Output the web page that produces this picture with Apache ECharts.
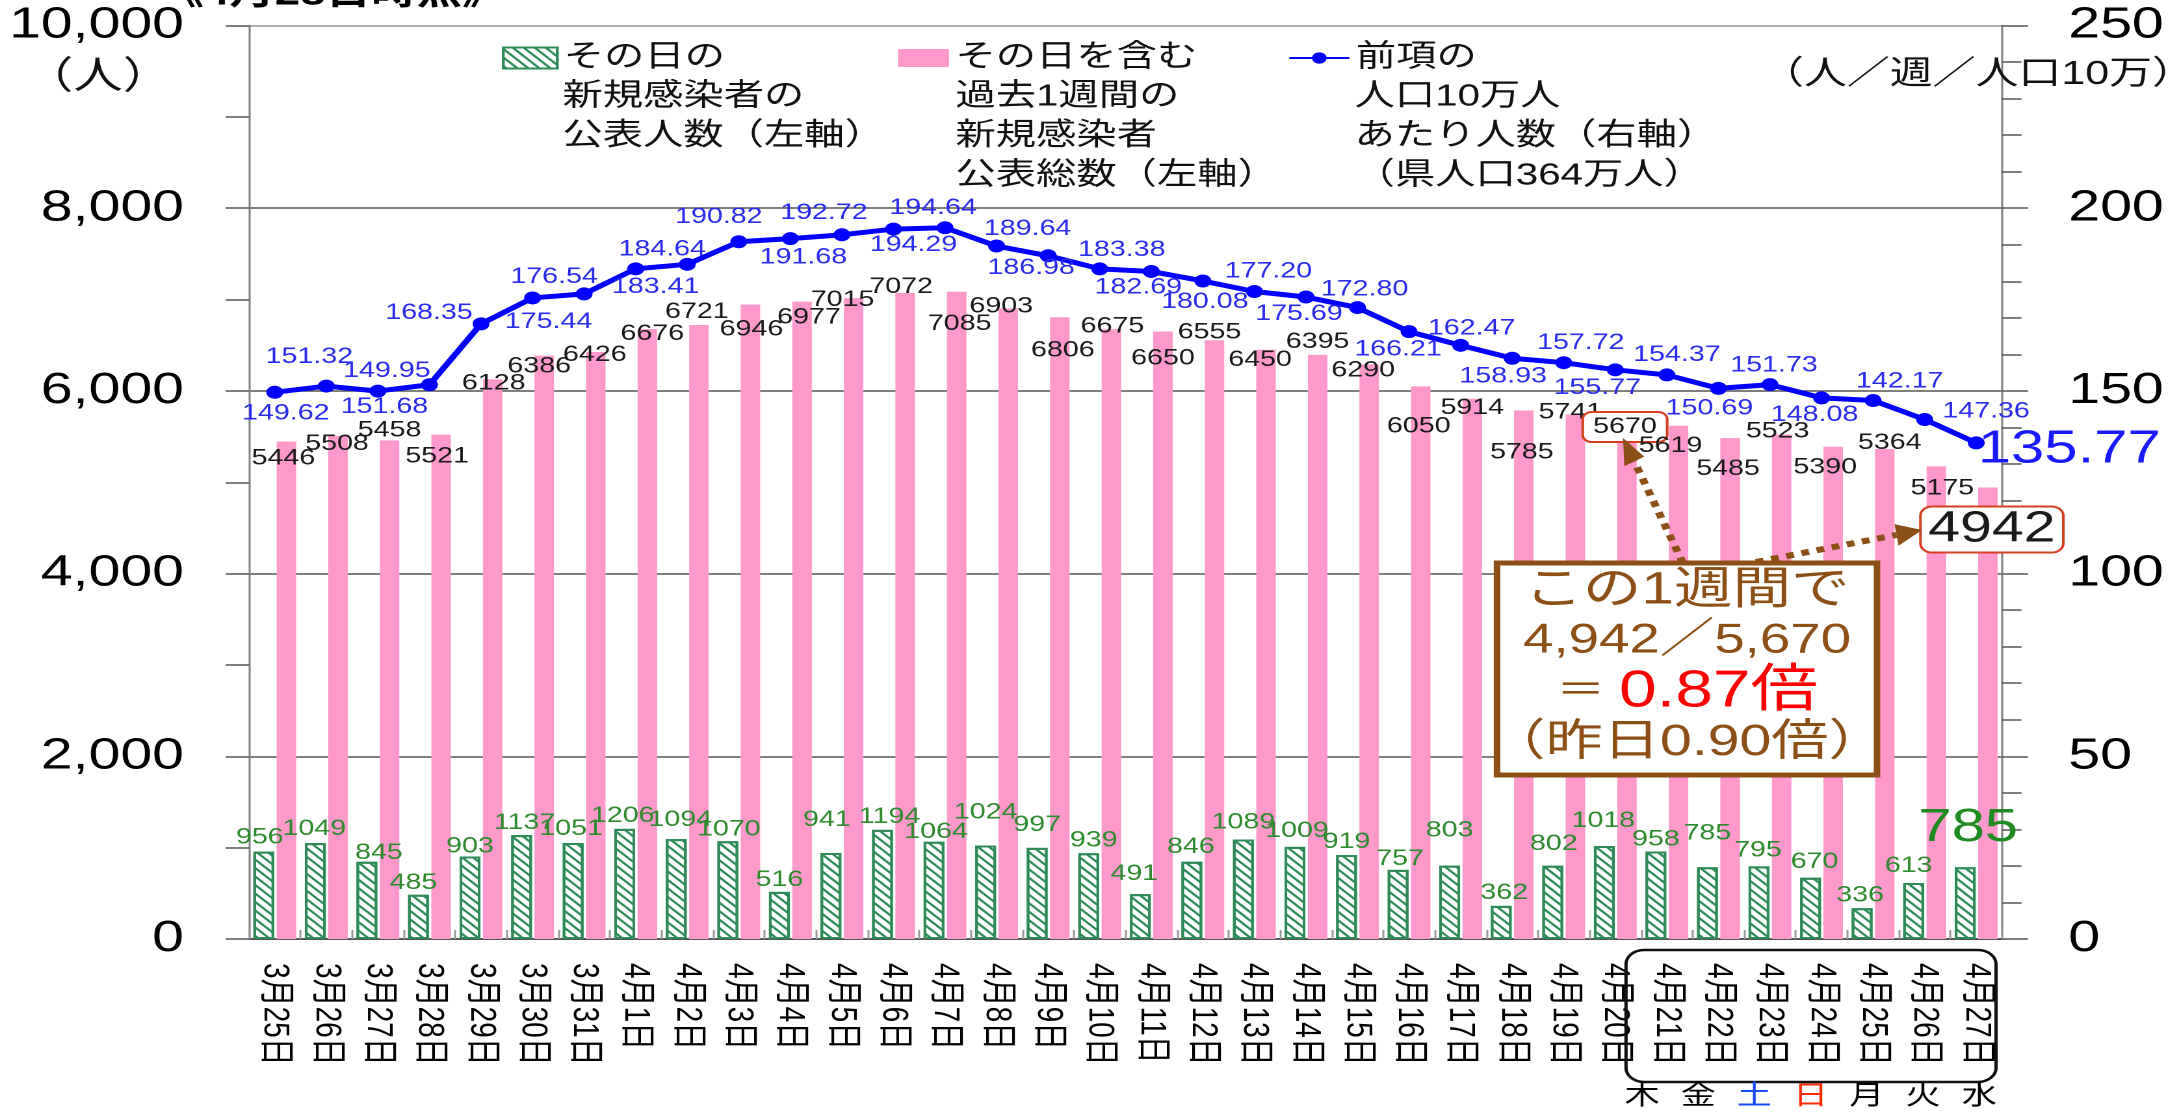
<!DOCTYPE html>
<html>
<head>
<meta charset="utf-8">
<script src="https://cdn.jsdelivr.net/npm/echarts@6/dist/echarts.min.js"></script>
<style>
  html, body { margin: 0; padding: 0; background: #fff; overflow: hidden; }
  /* the source picture is stretched sideways, so the chart is drawn narrow and widened */
  #chart { width: 1676px; height: 1112px; transform: scaleX(1.30012); transform-origin: 0 0; }
</style>
</head>
<body>
<div id="chart"></div>
<script>
const categories = [
  '3月25日', '3月26日', '3月27日', '3月28日', '3月29日', '3月30日', '3月31日',
  '4月1日', '4月2日', '4月3日', '4月4日', '4月5日', '4月6日', '4月7日', '4月8日',
  '4月9日', '4月10日', '4月11日', '4月12日', '4月13日', '4月14日', '4月15日',
  '4月16日', '4月17日', '4月18日', '4月19日', '4月20日', '4月21日', '4月22日',
  '4月23日', '4月24日', '4月25日', '4月26日', '4月27日'
];
// その日の新規感染者の公表人数
const dailyCases = [956, 1049, 845, 485, 903, 1137, 1051, 1206, 1094, 1070, 516, 941, 1194, 1064, 1024,
  997, 939, 491, 846, 1089, 1009, 919, 757, 803, 362, 802, 1018, 958, 785, 795, 670, 336, 613, 785];
// 過去1週間の新規感染者公表総数
const weeklyCases = [5446, 5508, 5458, 5521, 6128, 6386, 6426, 6676, 6721, 6946, 6977, 7015, 7072, 7085, 6903,
  6806, 6675, 6650, 6555, 6450, 6395, 6290, 6050, 5914, 5785, 5741, 5670, 5619, 5485, 5523, 5390, 5364, 5175, 4942];
// 人口10万人あたり
const ratePer100k = [149.62, 151.32, 149.95, 151.68, 168.35, 175.44, 176.54, 183.41, 184.64, 190.82, 191.68,
  192.72, 194.29, 194.64, 189.64, 186.98, 183.38, 182.69, 180.08, 177.20, 175.69, 172.80, 166.21, 162.47,
  158.93, 157.72, 155.77, 154.37, 150.69, 151.73, 148.08, 147.36, 142.17, 135.77];
const weekdays = ['木', '金', '土', '日', '月', '火', '水'];
const weekdayColors = ['#000', '#000', '#1a4cff', '#ff2a00', '#000', '#000', '#000'];

const leftMax = 10000, leftStep = 2000;
const rightMax = 250, rightStep = 50;

const seriesNames = ['その日の新規感染者の公表人数', 'その日を含む過去1週間の新規感染者公表総数', '人口10万人あたり人数'];
const legendText = [
  ['その日の', '新規感染者の', '公表人数（左軸）'],
  ['その日を含む', '過去1週間の', '新規感染者', '公表総数（左軸）'],
  ['前項の', '人口10万人', 'あたり人数（右軸）', '（県人口364万人）']
];

// hand placed label nudges from the original, [dx, dy] in picture pixels
const dailyNudge = [[-4,-14],[-1,-14],[12,-9],[-5,-12],[0,-10],[3,-12],[-2,-14],[-2,-13],[4,-19],[1,-12],
  [0,-12],[-4,-33],[7,-13],[2,-10],[0,-33],[0,-23],[5,-13],[-6,-20],[-1,-15],[0,-17],[2,-16],[0,-13],[2,-11],
  [0,-35],[3,-13],[1,-22],[-1,-25],[0,-12],[0,-34],[-1,-16],[4,-16],[-2,-13],[-5,-17],[3,-39]];
const weeklyNudge = [[-3,17],[-1,8],[0,-10],[-4,22],[1,4],[-5,11],[-1,3],[5,5],[-2,-13],[1,25],
  [7,16],[-11,2],[-4,-6],[3,32],[-7,-2],[3,33],[1,-3],[0,27],[-5,-8],[-6,10],[0,-13],[-6,6],[-2,40],[0,9],
  [-2,42],[-5,-2],[-2,6],[-8,20],[-2,31],[-4,-3],[-8,21],[5,-6],[6,22],[4,42]];
const rateNudge = [[11,21],[-17,-29],[9,-20],[-45,22],[-52,-11],[16,24],[-30,-17],[20,18],[-25,-15],[-20,-25],
  [13,19],[-18,-22],[20,16],[-12,-20],[31,-17],[-17,12],[22,-19],[-13,16],[2,21],[14,-20],[-7,17],[7,-18],
  [-11,18],[11,-17],[-9,18],[17,-20],[-18,18],[10,-20],[-9,20],[4,-19],[-7,17],[113,11],[-25,-38],[93,7]];

const sx = 2179 / 1676;
const X = v => v / sx;   // picture x -> chart x
const FONT = "'Liberation Sans', Arial, 'Noto Sans CJK JP', sans-serif";
const BROWN = '#8c4f16';
const GREEN = '#2e8b57';
const PINK = '#ff99cc';
const BLUE = '#0000ff';

const last = dailyCases.length - 1;
const boxOf5670 = weeklyCases.indexOf(5670);

const dailyData = dailyCases.map((v, i) => {
  const big = i === last;
  return {
    value: v,
    label: {
      offset: [X(dailyNudge[i][0]), dailyNudge[i][1] + (big ? 23 : 11)],
      fontSize: big ? 46 : 22,
      lineHeight: big ? 46 : 22,
      color: big ? '#1f8a1f' : '#2d8a2d'
    }
  };
});

const weeklyData = weeklyCases.map((v, i) => {
  const item = { value: v, label: { offset: [X(weeklyNudge[i][0]), weeklyNudge[i][1] + 11] } };
  if (i === boxOf5670) {
    item.label = {
      offset: [X(weeklyNudge[i][0]), weeklyNudge[i][1] + 14],
      padding: [3, 7], borderColor: '#d2401e', borderWidth: 2, borderRadius: 6, backgroundColor: '#fff'
    };
  }
  if (i === last) {
    item.label = {
      offset: [X(weeklyNudge[i][0]), weeklyNudge[i][1] + 22],
      fontSize: 44, lineHeight: 40, padding: [2, 5],
      borderColor: '#d2401e', borderWidth: 2, borderRadius: 8, backgroundColor: '#fff'
    };
  }
  return item;
});

const rateData = ratePer100k.map((v, i) => {
  const big = i === last;
  return {
    value: v,
    label: {
      offset: [X(rateNudge[i][0]), rateNudge[i][1]],
      fontSize: big ? 46 : 22,
      color: big ? '#1a1aff' : '#2b2bee'
    }
  };
});

// legend blocks: icon left, icon width, text start in chart coords
const legendLeft = [X(502), X(898), X(1288)];
const legendIconW = [X(54), X(51), X(60)];
const legendIconH = [21, 18, 14];
const legendLineY = [58, 97, 136.5, 176];

const graphics = [];

// title (cut by the top edge in the original)
graphics.push({ type: 'text', z: 100, x: X(333), y: -5,
  style: { text: '《4月28日時点》', fontSize: 35, fontWeight: 'bold', fontFamily: FONT, fill: '#000',
    align: 'center', verticalAlign: 'middle' } });
// axis units
graphics.push({ type: 'text', z: 100, x: X(98), y: 78,
  style: { text: '（人）', fontSize: 38, fontFamily: FONT, fill: '#111', align: 'center', verticalAlign: 'middle' } });
graphics.push({ type: 'text', z: 100, x: X(1978), y: 75,
  style: { text: '（人／週／人口10万）', fontSize: 33, fontFamily: FONT, fill: '#111', align: 'center', verticalAlign: 'middle' } });

// extra legend lines
legendText.forEach((lines, k) => {
  lines.slice(1).forEach((t, j) => {
    graphics.push({ type: 'text', z: 100, x: legendLeft[k] + legendIconW[k] + 5, y: legendLineY[j + 1],
      style: { text: t, fontSize: 31, fontFamily: FONT, fill: '#111', align: 'left', verticalAlign: 'middle' } });
  });
});

// comparison box
graphics.push({ type: 'rect', z: 100, shape: { x: X(1497), y: 563, width: X(380), height: 212 },
  style: { fill: '#fff', stroke: BROWN, lineWidth: 5 } });
const boxCx = X(1687);
graphics.push({ type: 'text', z: 101, x: boxCx, y: 591,
  style: { text: 'この1週間で', fontSize: 45, fontFamily: FONT, fill: BROWN, align: 'center', verticalAlign: 'middle' } });
graphics.push({ type: 'text', z: 101, x: boxCx, y: 641,
  style: { text: '4,942／5,670', fontSize: 42, fontFamily: FONT, fill: BROWN, align: 'center', verticalAlign: 'middle' } });
graphics.push({ type: 'text', z: 101, x: boxCx, y: 692,
  style: { text: '{e|＝ }{r|0.87倍}', fontFamily: FONT, align: 'center', verticalAlign: 'middle',
    rich: { e: { fontSize: 38, fill: BROWN, fontFamily: FONT }, r: { fontSize: 52, fill: '#ff0000', fontFamily: FONT } } } });
graphics.push({ type: 'text', z: 101, x: boxCx, y: 743,
  style: { text: '（昨日0.90倍）', fontSize: 44, fontFamily: FONT, fill: BROWN, align: 'center', verticalAlign: 'middle' } });

function arrow(x0, y0, x1, y1) {
  const dx = x1 - x0, dy = y1 - y0, len = Math.hypot(dx, dy);
  const ux = dx / len, uy = dy / len;
  const head = 26, half = 11;
  const bx = x1 - ux * head, by = y1 - uy * head;
  graphics.push({ type: 'line', z: 100, shape: { x1: X(x0), y1: y0, x2: X(bx), y2: by },
    style: { stroke: BROWN, lineWidth: 6, lineDash: [6, 6] } });
  graphics.push({ type: 'polygon', z: 100,
    shape: { points: [[X(x1), y1], [X(bx - uy * half), by + ux * half], [X(bx + uy * half), by - ux * half]] },
    style: { fill: BROWN } });
}
arrow(1683, 563, 1623, 438);
arrow(1756, 562, 1922, 530);

// box round the last week's dates and their weekdays
graphics.push({ type: 'rect', z: 100, shape: { x: X(1626), y: 950, width: X(370), height: 132, r: 14 },
  style: { fill: 'none', stroke: '#111', lineWidth: 2.5 } });
weekdays.forEach((d, k) => {
  graphics.push({ type: 'text', z: 100, x: X(1642 + 56.2 * k), y: 1097,
    style: { text: d, fontSize: 27, fontFamily: FONT, fill: weekdayColors[k], align: 'center', verticalAlign: 'middle' } });
});

const chart = echarts.init(document.getElementById('chart'), null, { devicePixelRatio: 2 });

const option = {
  animation: false,
  backgroundColor: '#fff',
  grid: { left: X(249), right: 1676 - X(2002), top: 25.5, bottom: 173, containLabel: false },
  legend: seriesNames.map((name, k) => ({
    data: [name],
    left: legendLeft[k],
    top: 42.5,
    padding: 0,
    selectedMode: false,
    itemWidth: legendIconW[k],
    itemHeight: legendIconH[k],
    icon: k < 2 ? 'rect' : undefined,
    formatter: () => legendText[k][0],
    textStyle: { fontSize: 31, lineHeight: 31, color: '#111', fontFamily: FONT }
  })),
  xAxis: {
    type: 'category',
    data: categories,
    axisLine: { lineStyle: { color: '#555', width: 2 } },
    axisTick: { show: true, inside: true, length: 9, lineStyle: { color: '#999', width: 1.5 } },
    axisLabel: { interval: 0, rotate: -90, margin: 24, fontSize: 28, color: '#000', fontFamily: FONT, padding: [10, 0, 0, 0] }
  },
  yAxis: [
    {
      type: 'value', min: 0, max: leftMax, interval: leftStep, position: 'left',
      axisLine: { show: true, lineStyle: { color: '#808080', width: 1.5 } },
      axisTick: { show: true, length: 18, lineStyle: { color: '#555', width: 1.5 } },
      minorTick: { show: true, splitNumber: 2, length: 18, lineStyle: { color: '#555', width: 1.5 } },
      splitLine: { show: true, lineStyle: { color: ['#555', '#555', '#555', '#555', '#555', '#999'], width: 1.5 } },
      axisLabel: { fontSize: 44, color: '#000', margin: 50, fontFamily: FONT, formatter: v => v.toLocaleString('en-US') }
    },
    {
      type: 'value', min: 0, max: rightMax, interval: rightStep, position: 'right',
      axisLine: { show: true, lineStyle: { color: '#808080', width: 1.5 } },
      axisTick: { show: true, length: 20, lineStyle: { color: '#555', width: 1.5 } },
      minorTick: { show: true, splitNumber: 5, length: 15, lineStyle: { color: '#555', width: 1.5 } },
      splitLine: { show: false },
      axisLabel: { fontSize: 44, color: '#000', margin: 51, fontFamily: FONT }
    }
  ],
  series: [
    {
      name: seriesNames[0],
      type: 'bar',
      yAxisIndex: 0,
      barWidth: 16,
      barGap: '12%',
      itemStyle: {
        color: '#fff', borderColor: GREEN, borderWidth: 2,
        decal: { symbol: 'rect', symbolSize: 1, color: GREEN, dashArrayX: [1, 0], dashArrayY: [2, 4], rotation: Math.PI / 4 }
      },
      label: { show: true, position: 'top', distance: 0, fontFamily: FONT },
      data: dailyData,
      z: 2
    },
    {
      name: seriesNames[1],
      type: 'bar',
      yAxisIndex: 0,
      barWidth: 15,
      barGap: '12%',
      itemStyle: { color: PINK },
      label: { show: true, position: 'top', distance: 0, fontSize: 22, lineHeight: 22, color: '#1a1a1a', fontFamily: FONT },
      data: weeklyData,
      z: 2
    },
    {
      name: seriesNames[2],
      type: 'line',
      yAxisIndex: 1,
      symbol: 'circle',
      symbolSize: 13,
      showAllSymbol: true,
      lineStyle: { width: 5, color: BLUE },
      itemStyle: { color: BLUE },
      label: { show: true, position: 'inside', fontSize: 22, fontFamily: FONT, formatter: p => p.value.toFixed(2) },
      data: rateData,
      z: 5
    }
  ],
  graphic: { elements: graphics }
};

chart.setOption(option);
</script>
</body>
</html>
